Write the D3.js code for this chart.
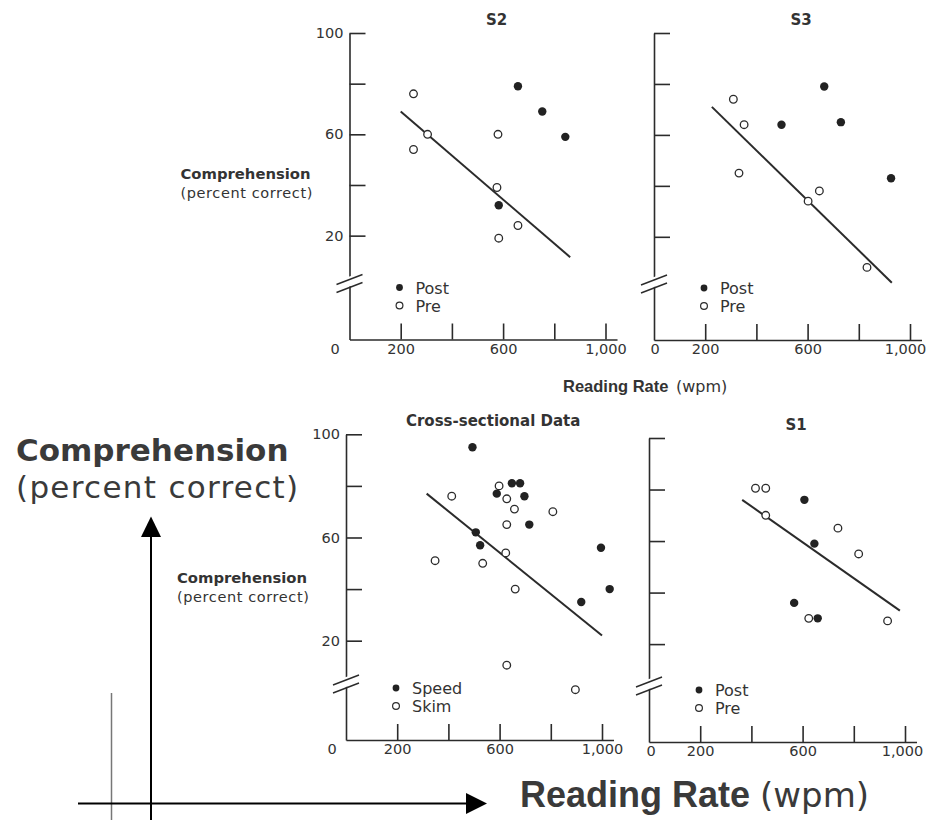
<!DOCTYPE html>
<meta charset="utf-8">
<html>
<style>
  body {
    margin: 0;
    background: #fff;
  }

  .chart text {
    font-family: "DejaVu Sans", sans-serif;
    fill: #333;
  }

  .axis path,
  .axis line {
    stroke: #2b2b2b;
    stroke-width: 1.6;
  }

  .axis text {
    font-size: 14.5px;
  }

  .fit {
    fill: none;
    stroke: #2b2b2b;
    stroke-width: 2;
  }
</style>
<script type="text/javascript" src="https://d3js.org/d3.v7.min.js"></script>

<body>
  <svg class="chart"></svg>
</body>
<script>
  var width = 926;
  var height = 820;

  // [reading rate (wpm), comprehension (% correct)]
  var s2Post = [[658, 79], [753, 69], [843, 59], [583, 32]];
  var s2Pre = [[250, 76], [305, 60], [250, 54], [580, 60], [576, 39], [658, 24], [583, 19]];
  var s2Fit = [[200, 69], [862, 11.5]];

  var s3Post = [[498, 64], [665, 79], [730, 65], [926, 43]];
  var s3Pre = [[310, 74], [352, 64], [332, 45], [602, 34], [646, 38], [832, 8]];
  var s3Fit = [[226, 71], [929, 2]];

  var crossSpeed = [[494, 95], [648, 81], [680, 81], [589, 77], [697, 76], [716, 65],
    [507, 62], [524, 57], [996, 56], [1030, 40], [919, 35]];
  var crossSkim = [[413, 76], [598, 80], [628, 75], [658, 71], [808, 70], [628, 65],
    [624, 54], [348, 51], [534, 50], [661, 40], [628, 10.5], [896, 1]];
  var crossFit = [[315, 77], [1000, 22]];

  var s1Post = [[607, 76], [646, 59], [567, 36], [659, 30]];
  var s1Pre = [[416, 80.5], [456, 80.5], [456, 70], [738, 65], [819, 55], [624, 30], [932, 29]];
  var s1Fit = [[364, 76], [980, 33]];

  var xTicks = [200, 400, 600, 800, 1000];
  var xTickText = ["200", "", "600", "", "1,000"];
  var yTicks = [20, 40, 60, 80, 100];
  var yTickText = ["20", "", "60", "", "100"];

  var xUnit = 0.256; // px per wpm

  var panels = [
    { title: "S2", left: 349.5, top: 33, bottom: 339.5, yMin: -21, yLabels: true, zeroDx: -14.5, lastDx: 0,
      filled: s2Post, open: s2Pre, fit: s2Fit, keys: ["Post", "Pre"] },
    { title: "S3", left: 654, top: 33, bottom: 340, yMin: -20.5, yLabels: false, zeroDx: 1, lastDx: -5,
      filled: s3Post, open: s3Pre, fit: s3Fit, keys: ["Post", "Pre"] },
    { title: "Cross-sectional Data", left: 346, top: 434.3, bottom: 740, yMin: -18.5, yLabels: true, zeroDx: -14, lastDx: 0,
      filled: crossSpeed, open: crossSkim, fit: crossFit, keys: ["Speed", "Skim"] },
    { title: "S1", left: 649, top: 438, bottom: 742, yMin: -18, yLabels: false, zeroDx: 2, lastDx: -3,
      filled: s1Post, open: s1Pre, fit: s1Fit, keys: ["Post", "Pre"] }
  ];

  var svg = d3.select(".chart")
    .attr("width", width)
    .attr("height", height);

  svg.append("rect").attr("width", width).attr("height", height).attr("fill", "#fff");

  panels.forEach(function(p) {
    var x = d3.scaleLinear().domain([0, 1045]).range([p.left, p.left + 1045 * xUnit]);
    var y = d3.scaleLinear().domain([p.yMin, 100]).range([p.bottom, p.top]);
    var g = svg.append("g");

    var xa = g.append("g")
      .attr("class", "axis")
      .attr("transform", "translate(0," + p.bottom + ")")
      .call(d3.axisBottom(x).tickValues(xTicks).tickSize(-16).tickSizeOuter(0).tickPadding(4)
        .tickFormat(function(d, i) { return xTickText[i]; }));
    xa.selectAll(".tick text").filter(function(d) { return d === 1000; })
      .attr("dx", p.lastDx);

    g.append("g")
      .attr("class", "axis")
      .attr("transform", "translate(" + p.left + ",0)")
      .call(d3.axisLeft(y).tickValues(yTicks).tickSize(-16).tickSizeOuter(0).tickPadding(6)
        .tickFormat(function(d, i) { return p.yLabels ? yTickText[i] : ""; }));

    g.append("text")
      .attr("x", p.left + p.zeroDx)
      .attr("y", p.bottom + 4)
      .attr("dy", "0.71em")
      .attr("text-anchor", "middle")
      .style("font-size", "14.5px")
      .text("0");

    // axis break
    var by = p.bottom - 56;
    g.append("path")
      .attr("d", "M" + (p.left - 3) + "," + (by - 6) + "L" + (p.left + 3) + "," + (by - 8) +
        "L" + (p.left + 3) + "," + (by + 2) + "L" + (p.left - 3) + "," + (by + 4) + "Z")
      .attr("fill", "#fff");
    [-4, 4].forEach(function(o) {
      g.append("line")
        .attr("x1", p.left - 13).attr("y1", by + o + 5)
        .attr("x2", p.left + 13).attr("y2", by + o - 5)
        .attr("stroke", "#2b2b2b").attr("stroke-width", 1.4);
    });

    g.append("text")
      .attr("x", x(575))
      .attr("y", p.top - 8)
      .attr("text-anchor", "middle")
      .style("font-size", "15px")
      .style("font-weight", "bold")
      .text(p.title);

    g.append("path")
      .datum(p.fit)
      .attr("class", "fit")
      .attr("d", d3.line().x(function(d) { return x(d[0]); }).y(function(d) { return y(d[1]); }));

    g.selectAll(".open")
      .data(p.open)
      .enter().append("circle")
      .attr("class", "open")
      .attr("cx", function(d) { return x(d[0]); })
      .attr("cy", function(d) { return y(d[1]); })
      .attr("r", 3.8)
      .attr("fill", "#fff")
      .attr("stroke", "#2b2b2b")
      .attr("stroke-width", 1.3);

    g.selectAll(".filled")
      .data(p.filled)
      .enter().append("circle")
      .attr("class", "filled")
      .attr("cx", function(d) { return x(d[0]); })
      .attr("cy", function(d) { return y(d[1]); })
      .attr("r", 4.2)
      .attr("fill", "#222");

    // legend
    var lx = p.left + 50;
    p.keys.forEach(function(k, i) {
      var ly = p.bottom - 52 + i * 18;
      g.append("circle")
        .attr("cx", lx).attr("cy", ly).attr("r", 3.4)
        .attr("fill", i === 0 ? "#222" : "#fff")
        .attr("stroke", "#2b2b2b").attr("stroke-width", i === 0 ? 0 : 1.2);
      g.append("text")
        .attr("x", lx + 16).attr("y", ly + 6)
        .style("font-size", "16px")
        .text(k);
    });

    if (p.yLabels) {
      var y40 = y(40);
      g.append("text")
        .attr("x", p.left - 169).attr("y", y40 - 6)
        .style("font-size", "14.8px").style("font-weight", "bold")
        .text("Comprehension");
      g.append("text")
        .attr("x", p.left - 169).attr("y", y40 + 13)
        .style("font-size", "14.5px").style("letter-spacing", "0.6px")
        .text("(percent correct)");
    }
  });

  // shared x label between the rows
  var rr = svg.append("text").attr("y", 392);
  rr.append("tspan").attr("x", 563).style("font-family", "'Liberation Sans', Arial, sans-serif")
    .style("font-weight", "bold").style("font-size", "16.5px").text("Reading Rate");
  rr.append("tspan").attr("x", 676).style("font-size", "16px").text("(wpm)");

  // enlarged labels and arrows
  var big = svg.append("g");
  big.append("text").attr("x", 16).attr("y", 461)
    .style("font-size", "31px").style("font-weight", "bold").style("fill", "#3a3a3a")
    .text("Comprehension");
  big.append("text").attr("x", 16).attr("y", 498)
    .style("font-size", "31px").style("letter-spacing", "1.3px").style("fill", "#3a3a3a")
    .text("(percent correct)");

  var br = big.append("text").attr("y", 807).style("fill", "#3a3a3a");
  br.append("tspan").attr("x", 520).style("font-family", "'Liberation Sans', Arial, sans-serif")
    .style("font-weight", "bold").style("font-size", "36px").text("Reading Rate");
  br.append("tspan").attr("x", 760).style("font-size", "34px").text("(wpm)");

  big.append("line").attr("x1", 111.5).attr("y1", 693).attr("x2", 111.5).attr("y2", 820)
    .attr("stroke", "#777").attr("stroke-width", 1.5);
  big.append("line").attr("x1", 151).attr("y1", 820).attr("x2", 151).attr("y2", 535)
    .attr("stroke", "#000").attr("stroke-width", 2);
  big.append("path").attr("d", "M141,537L161,537L151,516.5Z").attr("fill", "#000");
  big.append("line").attr("x1", 78).attr("y1", 803.5).attr("x2", 468).attr("y2", 803.5)
    .attr("stroke", "#000").attr("stroke-width", 2);
  big.append("path").attr("d", "M466,793L466,814L487,803.5Z").attr("fill", "#000");
</script>

</html>
